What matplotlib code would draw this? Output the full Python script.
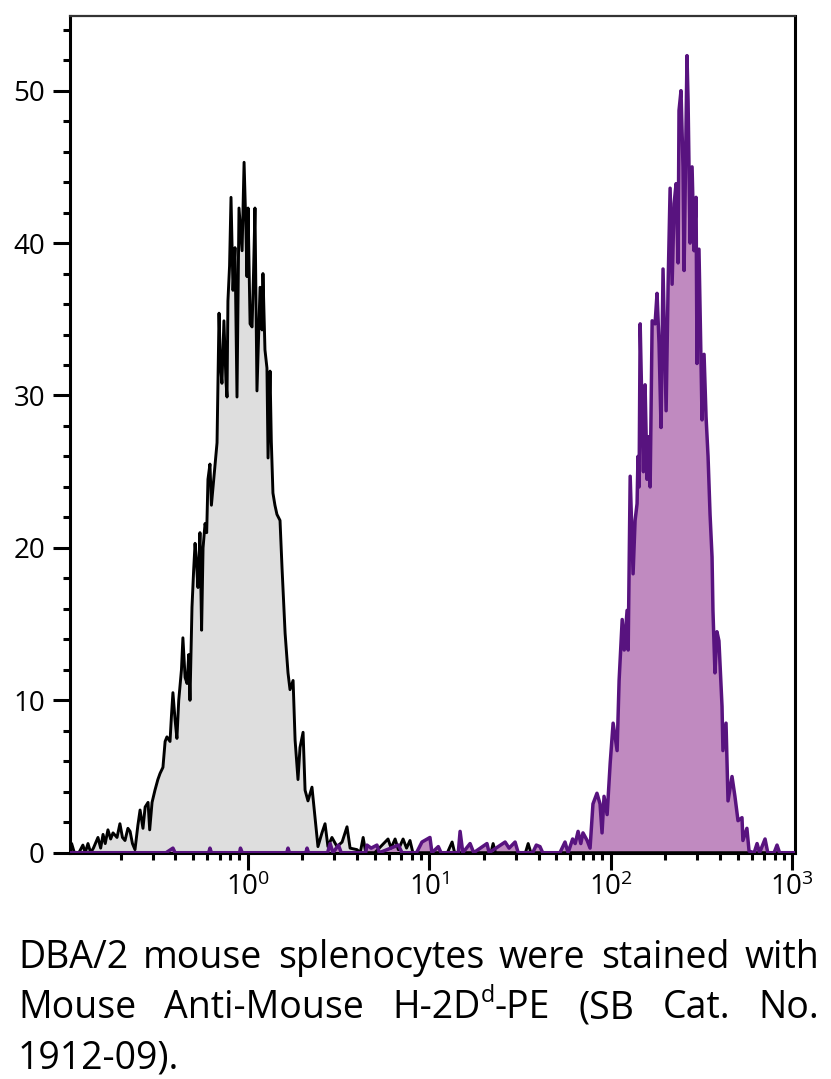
import matplotlib
matplotlib.use("Agg")
import matplotlib.pyplot as plt
import numpy as np
from matplotlib import font_manager
from matplotlib.ticker import LogLocator, MultipleLocator, LogFormatterSciNotation, NullFormatter
from matplotlib.transforms import IdentityTransform

# ---------------- data (x as log10 of fluorescence intensity, y = counts) ----------------
gray_log10_x = [-0.979, -0.970, -0.955, -0.930, -0.908, -0.895, -0.880, -0.865, -0.850, -0.825,
                -0.810, -0.797, -0.785, -0.770, -0.755, -0.742, -0.720, -0.704, -0.690, -0.676,
                -0.660, -0.648, -0.635, -0.621, -0.605, -0.593, -0.577, -0.565, -0.549, -0.540,
                -0.527, -0.511, -0.495, -0.483, -0.467, -0.455, -0.445, -0.428, -0.420, -0.412,
                -0.400, -0.390, -0.380, -0.373, -0.365, -0.357, -0.345, -0.334, -0.325, -0.318,
                -0.307, -0.298, -0.290, -0.282, -0.274, -0.263, -0.254, -0.246, -0.235, -0.226,
                -0.219, -0.208, -0.200, -0.191, -0.180, -0.169, -0.164, -0.158, -0.150, -0.142,
                -0.131, -0.120, -0.114, -0.109, -0.100, -0.092, -0.081, -0.070, -0.059, -0.048,
                -0.031, -0.020, -0.010, -0.004, 0.002, 0.013, 0.024, 0.032, 0.040, 0.046,
                0.051, 0.060, 0.068, 0.079, 0.084, 0.095, 0.106, 0.112, 0.123, 0.130,
                0.139, 0.150, 0.161, 0.178, 0.189, 0.206, 0.222, 0.233, 0.250, 0.261,
                0.277, 0.288, 0.305, 0.316, 0.332, 0.354, 0.371, 0.387, 0.409, 0.426,
                0.442, 0.464, 0.492, 0.520, 0.547, 0.564, 0.602, 0.620, 0.636, 0.650,
                0.700, 0.773, 0.790, 0.812, 0.830, 0.856, 0.875, 0.894, 0.910, 1.100,
                1.126, 1.140, 1.340, 1.352, 1.365, 1.530, 1.545, 1.560, 3.015]
gray_counts = [0.0, 0.6, 0.0, 0.0, 0.5, 0.0, 0.6, 0.0, 0.3, 1.0,
               0.3, 1.2, 0.6, 1.5, 0.9, 1.3, 1.0, 1.9, 1.0, 0.8,
               1.6, 1.4, 0.6, 0.2, 1.8, 2.8, 1.6, 3.0, 3.3, 1.5,
               3.3, 4.1, 4.8, 5.2, 5.6, 7.3, 7.6, 7.3, 9.0, 10.5,
               8.7, 7.5, 10.0, 10.9, 12.0, 14.1, 11.5, 11.1, 13.0, 10.0,
               16.1, 18.5, 20.3, 19.0, 17.4, 21.0, 14.6, 20.0, 21.6, 21.0,
               24.5, 25.5, 22.8, 24.0, 25.5, 26.9, 30.8, 35.4, 32.0, 30.8,
               34.9, 31.0, 29.9, 36.2, 38.5, 43.0, 36.9, 39.7, 29.9, 42.3,
               39.5, 45.3, 41.0, 37.8, 42.3, 34.7, 34.5, 38.0, 42.3, 36.0,
               30.3, 34.0, 37.1, 34.3, 38.0, 33.0, 31.8, 25.9, 31.6, 27.0,
               23.6, 22.8, 22.2, 21.8, 18.7, 14.4, 11.8, 10.7, 11.3, 7.4,
               4.8, 6.9, 7.9, 4.1, 3.4, 4.3, 2.3, 0.4, 1.3, 1.9,
               0.4, 1.0, 0.4, 0.7, 1.7, 0.3, 0.2, 0.0, 1.0, 0.0,
               0.0, 0.9, 0.3, 0.9, 0.2, 0.9, 0.3, 0.8, 0.0, 0.0,
               0.7, 0.0, 0.0, 0.6, 0.0, 0.0, 0.6, 0.0, 0.0]

purple_log10_x = [-0.979, -0.450, -0.412, -0.400, -0.215, -0.208, -0.200, -0.045, -0.040, -0.030,
                  0.215, 0.222, 0.230, 0.320, 0.327, 0.335, 0.440, 0.454, 0.470, 0.500,
                  0.515, 0.650, 0.657, 0.680, 0.712, 0.725, 0.830, 0.850, 0.930, 0.960,
                  1.004, 1.015, 1.050, 1.065, 1.160, 1.170, 1.185, 1.225, 1.245, 1.318,
                  1.330, 1.418, 1.440, 1.473, 1.490, 1.570, 1.590, 1.610, 1.625, 1.720,
                  1.748, 1.765, 1.790, 1.804, 1.820, 1.835, 1.847, 1.870, 1.886, 1.902,
                  1.924, 1.941, 1.952, 1.963, 1.980, 1.997, 2.013, 2.035, 2.046, 2.063,
                  2.074, 2.090, 2.096, 2.107, 2.123, 2.134, 2.145, 2.150, 2.156, 2.162,
                  2.173, 2.180, 2.189, 2.200, 2.206, 2.217, 2.228, 2.244, 2.255, 2.266,
                  2.277, 2.288, 2.305, 2.316, 2.327, 2.338, 2.349, 2.360, 2.371, 2.376,
                  2.387, 2.398, 2.404, 2.420, 2.426, 2.437, 2.448, 2.459, 2.470, 2.475,
                  2.486, 2.503, 2.514, 2.525, 2.536, 2.547, 2.558, 2.563, 2.574, 2.585,
                  2.596, 2.613, 2.618, 2.635, 2.646, 2.668, 2.684, 2.701, 2.723, 2.728,
                  2.750, 2.762, 2.790, 2.806, 2.820, 2.850, 2.865, 2.900, 2.916, 2.930,
                  3.015]
purple_counts = [0.0, 0.0, 0.3, 0.0, 0.0, 0.3, 0.0, 0.0, 0.3, 0.0,
                 0.0, 0.3, 0.0, 0.0, 0.3, 0.0, 0.0, 0.6, 0.0, 0.5,
                 0.0, 0.0, 0.5, 0.3, 0.5, 0.0, 0.5, 0.0, 0.0, 0.7,
                 1.0, 0.0, 0.4, 0.0, 0.0, 1.4, 0.0, 0.6, 0.0, 0.6,
                 0.0, 0.7, 0.3, 0.7, 0.0, 0.0, 0.5, 0.4, 0.0, 0.0,
                 0.7, 0.0, 0.9, 0.6, 1.4, 0.6, 1.3, 0.8, 0.3, 3.2,
                 3.9, 3.2, 1.3, 3.7, 2.5, 5.9, 8.5, 6.7, 11.3, 15.3,
                 13.3, 15.9, 13.3, 24.7, 18.3, 21.8, 22.9, 26.0, 24.0, 34.7,
                 28.4, 25.0, 30.7, 24.5, 27.3, 24.0, 34.9, 34.7, 36.7, 33.4,
                 27.9, 38.3, 29.0, 37.3, 43.6, 37.3, 42.6, 43.9, 38.7, 48.7,
                 50.0, 45.0, 38.2, 52.3, 49.3, 40.0, 45.0, 39.5, 43.0, 32.1,
                 39.6, 28.4, 32.7, 28.6, 26.0, 22.2, 19.4, 15.9, 11.8, 14.5,
                 13.9, 9.6, 6.7, 8.5, 3.4, 5.0, 3.7, 2.1, 2.3, 0.8,
                 1.6, 0.1, 0.0, 0.6, 0.0, 0.9, 0.0, 0.0, 0.5, 0.0,
                 0.0]

y_ticks = [0, 10, 20, 30, 40, 50]
x_limits_log10 = (-0.979, 3.015)
y_limits = (0, 54.9)

caption_lines = [
    ["DBA/2", "mouse", "splenocytes", "were", "stained", "with"],
    ["Mouse", "Anti-Mouse", [("H-2D", 0), ("d", 1), ("-PE", 0)], "(SB", "Cat.", "No."],
    ["1912-09)."],
]

# ---------------- style ----------------
names = {f.name for f in font_manager.fontManager.ttflist}
FONT = "DejaVu Sans"
for cand in ["Liberation Sans Narrow", "Open Sans", "Noto Sans", "DejaVu Sans"]:
    if cand in names:
        FONT = cand
        break
plt.rcParams["font.family"] = [FONT, "DejaVu Sans"]

GRAY_FILL = "#dedede"
GRAY_LINE = "#000000"
PURPLE_FILL = "#c08ac0"
PURPLE_LINE = "#58137f"

W, H = 831, 1079
fig = plt.figure(figsize=(W / 100, H / 100), dpi=100)
left_px, right_px, top_px, bottom_px = 70, 795, 16, 852.7
ax = fig.add_axes([left_px / W, 1 - bottom_px / H, (right_px - left_px) / W, (bottom_px - top_px) / H])

gx = 10 ** np.array(gray_log10_x)
gy = np.array(gray_counts)
px = 10 ** np.array(purple_log10_x)
py = np.array(purple_counts)

ax.fill_between(gx, 0, gy, color=GRAY_FILL, lw=0, zorder=1)
ax.plot(gx, gy, color=GRAY_LINE, lw=2.1, zorder=3)
ax.fill_between(px, 0, py, color=PURPLE_FILL, lw=0, zorder=2)
ax.plot(px, py, color=PURPLE_LINE, lw=2.5, zorder=4)

ax.set_xscale("log")
ax.set_xlim(10 ** x_limits_log10[0], 10 ** x_limits_log10[1])
ax.set_ylim(*y_limits)

ax.xaxis.set_major_locator(LogLocator(base=10, numticks=10))
ax.xaxis.set_minor_locator(LogLocator(base=10, subs=np.arange(2, 10), numticks=20))
ax.xaxis.set_major_formatter(LogFormatterSciNotation())
ax.xaxis.set_minor_formatter(NullFormatter())
ax.set_yticks(y_ticks)
ax.yaxis.set_minor_locator(MultipleLocator(2))

ax.tick_params(axis="both", which="major", direction="out", length=12, width=2.2,
               labelsize=20, color="black")
ax.tick_params(axis="both", which="minor", direction="out", length=5, width=2.2, color="black")
ax.tick_params(axis="y", which="major", pad=6)
ax.tick_params(axis="x", which="major", pad=3)

for side in ["left", "bottom", "right"]:
    ax.spines[side].set_linewidth(2.2)
    ax.spines[side].set_color("black")
ax.spines["top"].set_linewidth(1.6)
ax.spines["top"].set_color("#333333")

# ---------------- justified caption ----------------
FS = 27
x0_px, x1_px = 18, 819
baselines = [968, 1018, 1068]
renderer = fig.canvas.get_renderer()


def seg_props(kind):
    if kind == 1:
        return FS * 0.62, FS * 0.42 * 100 / 72
    return FS, 0.0


def measure(word):
    segs = [(word, 0)] if isinstance(word, str) else word
    total = 0
    widths = []
    for s, kind in segs:
        size, _ = seg_props(kind)
        t = fig.text(0, 0, s, fontsize=size, transform=IdentityTransform())
        w = t.get_window_extent(renderer).width
        t.remove()
        widths.append(w)
        total += w
    return segs, widths, total


for i, words in enumerate(caption_lines):
    measured = [measure(w) for w in words]
    total_w = sum(m[2] for m in measured)
    if i < len(caption_lines) - 1 and len(words) > 1:
        gap = (x1_px - x0_px - total_w) / (len(words) - 1)
    else:
        gap = 0.3 * FS * 100 / 72
    x = x0_px
    ybase = H - baselines[i]
    for segs, widths, tw in measured:
        xx = x
        for (s, kind), w in zip(segs, widths):
            size, dy = seg_props(kind)
            fig.text(xx, ybase + dy, s, fontsize=size, ha="left", va="baseline",
                     transform=IdentityTransform(), color="black")
            xx += w
        x += tw + gap

fig.savefig("out.png", dpi=100)
